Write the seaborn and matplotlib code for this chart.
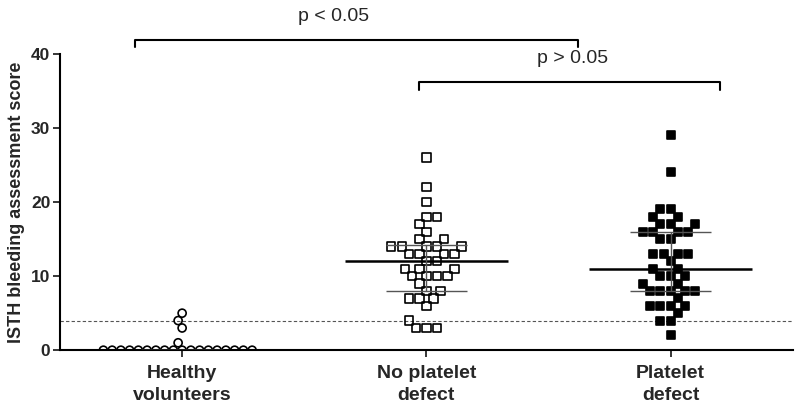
import matplotlib

matplotlib.use("Agg")

import matplotlib.pyplot as plt
import numpy as np
import pandas as pd
import seaborn as sns

# ----------------------------------------------------------
# Data
# ----------------------------------------------------------

GROUPS = ["Healthy\nvolunteers", "No platelet\ndefect", "Platelet\ndefect"]

HEALTHY = [0, 0, 0, 0, 0, 0, 0, 0, 0, 0, 0, 0, 0, 0, 0, 0, 0, 0, 1, 3, 4, 5]

NO_DEFECT = [3, 3, 3, 4, 6, 7, 7, 7, 8, 8, 9, 10, 10, 10, 10, 11, 11, 11, 12,
             12, 13, 13, 13, 13, 14, 14, 14, 14, 14, 15, 15, 16, 17, 18, 18,
             20, 22, 26]

PLATELET = [2, 4, 4, 5, 6, 6, 6, 6, 7, 8, 8, 8, 8, 8, 9, 9, 10, 10, 10, 11,
            11, 12, 13, 13, 13, 13, 15, 15, 16, 16, 16, 16, 17, 17, 17, 18,
            18, 19, 19, 24, 29]

CUTOFF = 4
Y_TICKS = [0, 10, 20, 30, 40]

df = pd.DataFrame({
    "group": [GROUPS[0]] * len(HEALTHY)
    + [GROUPS[1]] * len(NO_DEFECT)
    + [GROUPS[2]] * len(PLATELET),
    "score": HEALTHY + NO_DEFECT + PLATELET,
})

# ----------------------------------------------------------
# Figure
# ----------------------------------------------------------

sns.set_style("ticks")
plt.rcParams["font.family"] = ["Liberation Sans", "DejaVu Sans"]

fig = plt.figure(figsize=(8, 4.12), dpi=100)
ax = fig.add_axes([0.075, 0.15, 0.916, 0.719])

marker_styles = [
    ("o", 4.8, 5.8),   # marker, swarm spacing size, drawn size
    ("s", 6.0, 5.2),
    ("s", 6.0, 5.2),
]

for i, (group, (marker, swarm_size, _)) in enumerate(zip(GROUPS, marker_styles)):
    face = "black" if i == 2 else "none"
    sns.swarmplot(
        data=df[df["group"] == group],
        x="group",
        y="score",
        order=GROUPS,
        marker=marker,
        size=swarm_size,
        color="black",
        facecolor=face,
        edgecolor="black",
        linewidth=1.2,
        ax=ax,
    )

# median with interquartile range
for pos, values in enumerate([HEALTHY, NO_DEFECT, PLATELET]):
    q1, med, q3 = np.percentile(values, [25, 50, 75], method="weibull")
    ax.hlines(med, pos - 0.333, pos + 0.333, color="black", lw=1.8, zorder=4)
    ax.hlines([q1, q3], pos - 0.167, pos + 0.167, color="#555555", lw=1.0,
              zorder=4)
    ax.vlines(pos, q1, q3, color="#555555", lw=1.0, zorder=4)

ax.axhline(CUTOFF, color="#555555", lw=0.8, ls=(0, (3, 2)), zorder=1)

ax.set_xlim(-0.5, 2.5)
ax.set_ylim(0, 40)
ax.set_yticks(Y_TICKS)
ax.set_xlabel("")
ax.set_ylabel("ISTH bleeding assessment score", fontsize=13,
              fontweight="bold", labelpad=4)

ax.tick_params(axis="y", labelsize=12.5, width=1.3, length=5, direction="out",
               pad=2)
ax.tick_params(axis="x", labelsize=14, width=1.3, length=5, direction="out",
               pad=6)
for label in ax.get_xticklabels():
    label.set_fontweight("bold")
    label.set_linespacing(1.35)
for label in ax.get_yticklabels():
    label.set_fontweight("bold")

sns.despine(ax=ax)
for side in ["left", "bottom"]:
    ax.spines[side].set_linewidth(1.5)
    ax.spines[side].set_color("black")

# significance brackets: x0, x1, y, drop, label x, label
brackets = [
    (-0.195, 1.62, 41.9, 1.0, 0.62, "p < 0.05"),
    (0.97, 2.2, 36.2, 1.0, 1.6, "p > 0.05"),
]
for x0, x1, y, drop, tx, label in brackets:
    ax.plot([x0, x0, x1, x1], [y - drop, y, y, y - drop], color="black",
            lw=1.5, clip_on=False)
    ax.text(tx, y + 2.0, label, ha="center", va="bottom",
            fontsize=14, clip_on=False)

# compute swarm positions once, then shrink the drawn markers
fig.canvas.draw()
for coll, (_, _, drawn_size) in zip(ax.collections[:3], marker_styles):
    if "draw" in coll.__dict__:
        del coll.draw
    coll.set_sizes([drawn_size ** 2])

fig.savefig("out.png", dpi=100)
